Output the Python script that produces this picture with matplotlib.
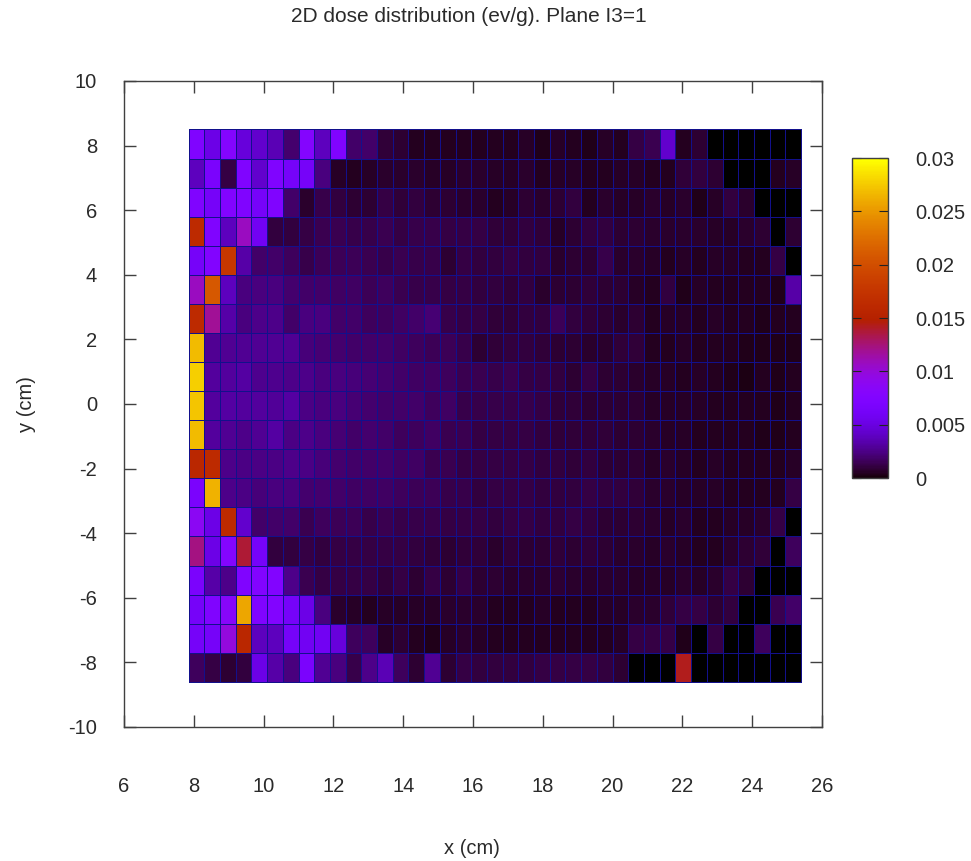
#!/usr/bin/python3
import matplotlib
matplotlib.use('Agg')
import matplotlib.pyplot as plt
from matplotlib.colors import ListedColormap
import numpy as np

# dose per cell in units of 0.001 ev/g, top row first
row_00 = [7.5, 5.5, 8, 5, 4.5, 3.8, 2.2, 8, 4, 7.5, 2, 2, 1.1, 1, .7, .7, .7, .6, .7, .7,
          .7, .8, .5, .8, .7, .5, .8, .7, 1.4, 1.6, 4.5, .6, 1, 0, 0, 0, 0, 0, 0]
row_01 = [4, 7, 1.3, 7.5, 4.5, 7.5, 6.5, 6.5, 2.5, .8, .6, .8, .9, .9, .9, .8, .8, .9, .9, .8,
          .8, .9, .6, .8, .8, .7, .7, .8, .8, .6, .6, 1.1, 1.2, 1, 0, 0, 0, .6, .8]
row_02 = [7.5, 6.5, 7.8, 7.5, 6.5, 7.5, 2, .9, 1.5, 1.2, 1, 1, 1.3, 1.1, 1.2, 1, 1, .9, .9, .7,
          .8, 1, .9, 1, 1.2, .7, .9, .8, .8, .9, .8, .9, .5, .8, 1.2, .9, 0, 0, 0]
row_03 = [16.5, 7.5, 4, 11, 6, 1.2, 1.2, 1.4, 1.6, 1.6, 1.5, 1.5, 1.6, 1.4, 1.5, 1.5, 1.3, 1.4, 1.3, 1.1,
          1.1, 1.2, 1.1, .8, 1, 1.2, 1.2, 1, 1, .9, .9, .9, .9, .8, .8, .9, 1, 0, 1]
row_04 = [6.5, 7.8, 18, 3.5, 2, 2, 1.8, 1.5, 1.7, 1.7, 1.7, 1.6, 1.5, 1.6, 1.5, 1.5, 1, 1.3, 1.2, 1.2,
          1.3, 1.2, 1.2, .9, 1, 1, 1.5, .9, .9, .8, .7, .8, .7, .8, .8, .7, .6, 1.4, 0]
row_05 = [11, 21, 4, 2.5, 2.5, 2.5, 2.2, 2.1, 2, 1.9, 1.9, 1.7, 1.8, 1.6, 1.5, 1.5, 1.3, 1.4, 1.2, 1.2,
          1.1, 1.2, .9, 1, 1, 1.1, 1, 1, .8, .7, 1.2, .5, .8, .7, .7, .7, .6, .5, 3.5]
row_06 = [16.5, 12, 3.5, 2.5, 2.8, 2.8, 2, 2.5, 2.5, 2, 2, 1.8, 1.8, 1.9, 2, 2.3, 1.5, 1.3, 1.4, 1.1,
          1.1, 1.2, 1.2, 1.7, 1.2, 1.1, 1, .9, 1, .7, .8, .8, .7, .8, .7, .6, .5, .6, .7]
row_07 = [27, 3, 3, 3, 3, 3, 3, 2.4, 2.3, 2.2, 2.1, 2, 2, 1.9, 1.8, 1.7, 1.7, 1.5, 1, 1.1,
          1.2, 1.2, 1.1, 1, 1, .9, .9, 1.1, 1.1, .7, .7, .8, .7, .7, .7, .5, .5, .5, .5]
row_08 = [28, 3.2, 3.2, 3.3, 2.9, 2.9, 2.8, 2.7, 2.5, 2.5, 2.4, 2.3, 2.2, 2, 1.9, 1.9, 1.8, 1.6, 1.6, 1.5,
          1.6, 1.4, 1.4, 1.2, 1, 1.3, 1, 1, .9, .8, .8, .7, .8, .7, .5, .4, .6, .5, .6]
row_09 = [27.5, 3.2, 3.3, 3.2, 3.2, 3.1, 3.3, 2.6, 2.5, 2.5, 2.3, 2.2, 2.1, 2, 2, 1.8, 1.9, 1.5, 1.5, 1.5,
          1.5, 1.5, 1.4, 1.1, 1.1, 1, 1, 1, 1, .8, .8, .8, .8, .7, .7, .6, .7, .5, .6]
row_10 = [27, 3.2, 3, 2.8, 3, 3.3, 2.6, 2.7, 2.5, 2.3, 2.1, 2.2, 2, 1.8, 1.8, 1.9, 1.6, 1.6, 1.3, 1.4,
          1.4, 1.3, 1.2, 1.1, 1.1, 1.1, 1.1, 1, 1, .9, .8, .8, .7, .7, .6, .7, .5, .5, .6]
row_11 = [16, 16.5, 2.8, 2.6, 2.6, 2.6, 2.7, 2.6, 2.4, 2.2, 2, 2, 2, 1.9, 1.9, 1.6, 1.6, 1.4, 1.3, 1.4,
          1.4, 1.3, 1.2, 1.2, 1.1, 1.2, 1, 1, 1, .8, .9, .8, .7, .8, .7, .6, .7, .6, .8]
row_12 = [7, 26.5, 2.8, 2.6, 2.4, 2.5, 2.5, 2.2, 2.2, 2.1, 1.9, 1.9, 1.9, 1.8, 1.7, 1.7, 1.5, 1.5, 1.2, 1.3,
          1.4, 1.3, 1.2, 1.2, 1.2, 1.3, 1.2, 1.2, 1.1, .9, .9, .8, .8, .8, .7, .7, .7, .6, 1.3]
row_13 = [9, 5.5, 16.5, 4.5, 2, 2, 2, 1.6, 1.8, 1.7, 1.7, 1.5, 1.6, 1.5, 1.5, 1.5, 1.4, 1.4, 1.3, 1.2,
          1.3, 1.3, 1.2, 1.2, 1.3, 1.2, 1, 1, 1, .9, .8, .9, .7, .6, .8, .8, .9, 1.3, 0]
row_14 = [12.5, 5.5, 8, 14, 6.5, 1.2, 1.2, 1.4, 1.2, 1.3, 1.3, 1.4, 1.3, 1.4, 1.2, 1.1, 1, 1.1, 1.1, .9,
          1.1, 1, 1, 1.1, 1, 1.1, 1, .9, .9, .8, .9, .8, .7, .7, .9, 1, 1.1, 0, 1.8]
row_15 = [7, 3.5, 2.8, 7.5, 7.8, 7.8, 2.8, 1.6, 1.4, 1.4, 1.3, 1.3, 1.1, 1.3, 1, 1.4, 1, 1.3, 1, 1,
          .9, .9, .9, 1, .9, .9, .9, .9, .8, .8, .8, .9, .8, .9, 1.4, 1, 0, 0, 0]
row_16 = [6.5, 7.5, 8.5, 26, 7.5, 7.8, 6.5, 5.5, 2.5, .9, .8, .7, .8, .8, .8, .8, .9, .9, .9, .7,
          .7, .7, .8, .6, .7, .7, .8, .8, .9, .9, 1.1, 1.3, 1.3, 1, 1.2, 0, 0, 1.6, 2]
row_17 = [6.5, 6.5, 10, 16, 4, 4, 6.5, 6, 6, 5, 1.8, 1.8, .8, 1, .7, .5, .8, .9, .8, .7,
          .7, .7, .7, .6, .7, .7, .7, .8, 1.4, 1.4, 1.4, .5, 0, 1.4, 0, 0, 1.8, 0, 0]
row_18 = [1.8, 1.3, 1, 1.2, 5.5, 3.5, 2.5, 7, 3, 2.5, 1.5, 2.8, 3.8, 1.8, 1, 3, 1, 1.4, 1.2, 1.2,
          1.2, 1.2, 1.3, 1.4, 1.3, 1.3, 1.2, 1, 0, 0, 0, 14.5, 0, 0, 0, 0, 0, 0, 0]

dose_rows = [row_00, row_01, row_02, row_03, row_04, row_05, row_06, row_07, row_08, row_09,
             row_10, row_11, row_12, row_13, row_14, row_15, row_16, row_17, row_18]

x_edges = np.arange(40) * 0.45 + 7.85
y_edges = 8.5 - np.arange(20) * 0.9
x_ticks = [6, 8, 10, 12, 14, 16, 18, 20, 22, 24, 26]
y_ticks = [-10, -8, -6, -4, -2, 0, 2, 4, 6, 8, 10]
bar_ticks = [0, 0.005, 0.01, 0.015, 0.02, 0.025, 0.03]
bar_labels = ['0', '0.005', '0.01', '0.015', '0.02', '0.025', '0.03']

TEXT = '#2a2a2a'
FRAME = '#404040'
W, H = 971, 861


def px_axes(fig, left, top, right, bottom):
    return fig.add_axes([left / W, 1 - bottom / H, (right - left) / W, (bottom - top) / H])


def main():
    plt.rcParams['font.family'] = ['Liberation Sans', 'DejaVu Sans']
    plt.rcParams['font.size'] = 14.5
    plt.rcParams['axes.unicode_minus'] = False

    # gnuplot default pm3d palette (rgbformulae 7,5,15)
    t = np.linspace(0, 1, 256)
    table = np.column_stack([np.sqrt(t), t ** 3, np.clip(np.sin(2 * np.pi * t), 0, 1)])
    palette = ListedColormap(table)

    fig = plt.figure(figsize=(W / 100, H / 100), dpi=100)
    ax = px_axes(fig, 124, 81, 822, 727)
    dose = np.array(dose_rows) * 0.001
    mesh = ax.pcolormesh(x_edges, y_edges, dose, cmap=palette, vmin=0, vmax=0.03,
                         edgecolors='#12108c', linewidth=0.45)
    ax.set_xlim(6, 26)
    ax.set_ylim(-10, 10)
    ax.set_xticks(x_ticks)
    ax.set_yticks(y_ticks)
    ax.tick_params(direction='in', length=8.5, width=1, color=FRAME, labelcolor=TEXT,
                   top=True, right=True, labelsize=14.5)
    ax.tick_params(axis='x', pad=36)
    ax.tick_params(axis='y', pad=19.5)
    for spine in ax.spines.values():
        spine.set_linewidth(1)
        spine.set_color(FRAME)

    fig.text(472 / W, 1 - 848 / H, 'x (cm)', ha='center', va='center', color=TEXT)
    fig.text(27 / W, 1 - 404 / H, 'y (cm)', ha='center', va='center', rotation=90, color=TEXT)
    fig.text(469 / W, 1 - 17 / H, '2D dose distribution (ev/g). Plane I3=1', ha='center', va='center',
             color=TEXT, fontsize=15)

    cax = px_axes(fig, 852, 158, 888, 478)
    bar = fig.colorbar(mesh, cax=cax)
    bar.set_ticks(bar_ticks, labels=bar_labels)
    bar.solids.set_edgecolor('face')
    bar.outline.set_linewidth(1)
    bar.outline.set_edgecolor(FRAME)
    cax.tick_params(direction='in', length=6.5, width=0.8, color='#222222', labelcolor=TEXT,
                    left=True, right=True, labelsize=14.5, pad=19.5)

    fig.savefig('out.png', dpi=100)


if __name__ == "__main__":
    main()
